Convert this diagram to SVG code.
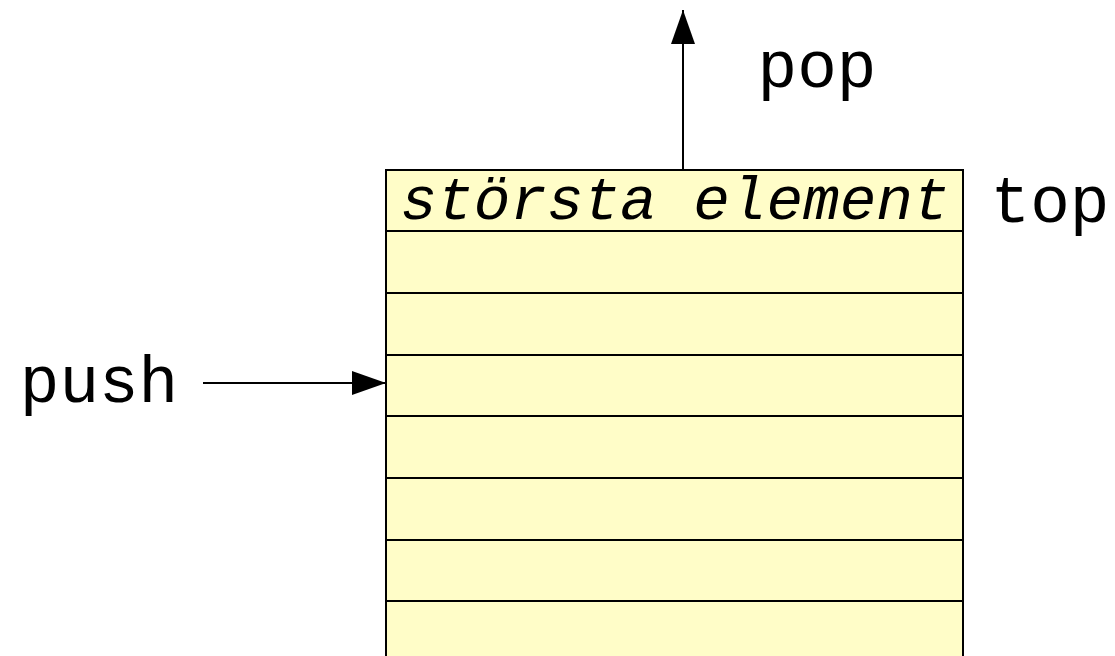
<svg xmlns="http://www.w3.org/2000/svg" width="1115" height="656" viewBox="0 0 1115 656">
<style>
.lbl{font-family:"Liberation Mono","Courier New",monospace;font-size:66px;fill:#000}
.it{font-family:"Liberation Mono","Courier New",monospace;font-size:61px;font-style:italic;fill:#000}
.cell{fill:#FFFDC8;stroke:#000;stroke-width:2}
.con{stroke:#000;stroke-width:2;fill:none}
</style>
<defs>
<marker id="ah" markerUnits="userSpaceOnUse" markerWidth="36" markerHeight="26" refX="34" refY="12" orient="auto">
<path d="M0,0 L34,12 L0,24 Z" fill="#000"/>
</marker>
</defs>
<g id="stack">
<rect class="cell" x="386" y="170" width="577" height="500"/>
<line class="con" x1="386" y1="231" x2="963" y2="231"/>
<line class="con" x1="386" y1="293" x2="963" y2="293"/>
<line class="con" x1="386" y1="355" x2="963" y2="355"/>
<line class="con" x1="386" y1="416" x2="963" y2="416"/>
<line class="con" x1="386" y1="478" x2="963" y2="478"/>
<line class="con" x1="386" y1="540" x2="963" y2="540"/>
<line class="con" x1="386" y1="601" x2="963" y2="601"/>
<text class="it" x="675" y="219" text-anchor="middle">största element</text>
</g>
<g id="labels">
<text class="lbl" x="1050" y="222" text-anchor="middle">top</text>
<text class="lbl" x="817" y="87" text-anchor="middle">pop</text>
<text class="lbl" x="99" y="402" text-anchor="middle">push</text>
</g>
<g id="connectors">
<line class="con" x1="683" y1="169" x2="683" y2="10" marker-end="url(#ah)"/>
<line class="con" x1="203" y1="383" x2="386" y2="383" marker-end="url(#ah)"/>
</g>
</svg>
